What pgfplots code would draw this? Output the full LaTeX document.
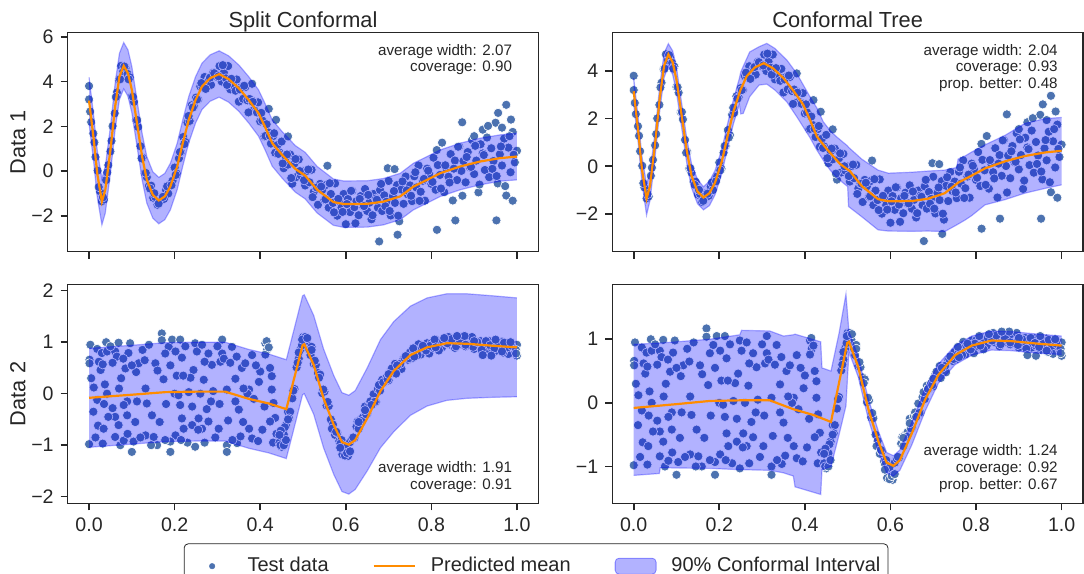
\documentclass[border=0pt]{standalone}
\usepackage{fontspec}
\setmainfont{Liberation Sans}
\usepackage{pgfplots}
\pgfplotsset{compat=1.18}
\usepgfplotslibrary{groupplots,fillbetween}
\usepackage{pgfplotstable}

\definecolor{sblue}{HTML}{4C72B0}
\definecolor{lorange}{HTML}{FF8C00}
\definecolor{tgray}{HTML}{262626}

% ---------- Data 1: test points ----------
\pgfplotstableread{
x y
0.000 3.20
0.000 3.80
0.005 2.19
0.010 1.68
0.015 0.63
0.020 0.02
0.025 -0.89
0.030 -1.35
0.035 -1.27
0.040 -0.40
0.045 0.27
0.050 0.88
0.055 2.01
0.060 2.58
0.065 3.51
0.070 4.08
0.075 4.70
0.080 4.46
0.085 4.60
0.090 4.34
0.095 4.19
0.100 3.33
0.105 3.09
0.110 2.27
0.115 1.97
0.120 1.11
0.125 0.60
0.130 -0.09
0.135 -0.27
0.140 -0.66
0.145 -0.65
0.150 -1.19
0.155 -1.16
0.160 -1.50
0.165 -1.15
0.170 -1.16
0.175 -1.24
0.180 -0.85
0.185 -1.00
0.190 -0.60
0.195 -0.43
0.200 0.16
0.205 -0.11
0.210 0.57
0.215 0.85
0.220 1.52
0.225 1.30
0.230 2.17
0.235 2.24
0.240 2.94
0.245 2.90
0.250 3.28
0.255 3.20
0.260 3.78
0.265 3.76
0.270 4.20
0.275 3.85
0.280 4.11
0.285 3.85
0.290 4.39
0.295 4.33
0.300 4.20
0.305 4.69
0.310 4.00
0.315 4.40
0.320 4.14
0.325 4.69
0.330 3.65
0.335 4.02
0.340 3.75
0.345 4.09
0.350 3.10
0.355 3.74
0.360 3.23
0.365 3.75
0.370 3.16
0.375 3.22
0.380 2.67
0.385 3.11
0.390 2.68
0.395 3.07
0.400 2.22
0.405 2.26
0.410 1.55
0.415 2.09
0.420 1.72
0.425 1.23
0.430 1.56
0.435 0.82
0.440 1.16
0.445 0.83
0.450 1.32
0.455 0.13
0.460 0.63
0.465 0.29
0.470 0.74
0.475 -0.56
0.480 0.34
0.485 -0.26
0.490 0.52
0.495 -0.19
0.500 -0.01
0.505 -0.64
0.510 0.01
0.515 -0.50
0.520 0.06
0.525 -0.93
0.530 -0.72
0.535 -1.50
0.540 -0.57
0.545 -0.84
0.550 -1.28
0.555 -0.61
0.560 -1.63
0.565 -1.02
0.570 -1.42
0.575 -0.55
0.580 -1.99
0.585 -1.34
0.590 -1.63
0.595 -1.02
0.600 -2.37
0.605 -1.25
0.610 -1.83
0.615 -0.89
0.620 -1.61
0.625 -1.34
0.630 -1.97
0.635 -1.11
0.640 -1.56
0.645 -0.80
0.650 -1.78
0.655 -1.41
0.660 -2.15
0.665 -1.02
0.670 -1.23
0.675 -1.63
0.680 -0.84
0.685 -1.78
0.690 -1.08
0.695 -1.37
0.700 -0.44
0.705 -1.98
0.710 -1.12
0.715 -1.42
0.720 -0.62
0.725 -2.24
0.730 -0.82
0.735 -1.46
0.740 -0.24
0.745 -1.04
0.750 -0.64
0.755 -1.34
0.760 -0.23
0.765 -0.73
0.770 0.25
0.775 -0.92
0.780 -0.43
0.785 -1.32
0.790 0.11
0.795 -0.12
0.800 -0.57
0.805 0.60
0.810 -0.83
0.815 0.27
0.820 -0.17
0.825 1.27
0.830 -0.94
0.835 0.14
0.840 -0.25
0.845 0.76
0.850 -1.31
0.855 0.47
0.860 -0.40
0.865 1.10
0.870 0.01
0.875 0.45
0.880 -0.50
0.885 0.85
0.890 0.17
0.895 1.39
0.900 -0.13
0.905 0.47
0.910 -0.95
0.915 1.20
0.920 0.79
0.925 0.05
0.930 1.50
0.935 -0.27
0.940 1.02
0.945 0.45
0.950 2.16
0.955 -0.55
0.960 0.75
0.965 0.25
0.970 1.45
0.975 -1.09
0.980 1.05
0.985 -0.05
0.990 1.75
0.995 0.39
1.000 0.91
0.678 -3.14
0.721 -2.84
0.813 -2.62
0.856 -2.20
0.952 -2.20
0.990 -1.32
0.975 2.96
0.956 2.60
0.872 2.18
0.986 2.30
0.965 1.94
0.920 1.85
0.900 1.56
0.698 0.13
0.714 0.09
0.557 0.24
0.420 2.78
0.437 2.29
0.465 1.55
0.381 3.90
0.0025 2.66
0.0125 1.28
0.0225 -0.71
0.0325 -1.17
0.0425 -0.06
0.0525 1.35
0.0625 3.31
0.0725 4.10
0.0825 4.67
0.0925 4.10
0.1025 3.32
0.1125 2.28
0.1225 0.57
0.1325 -0.08
0.1425 -0.78
0.1525 -0.99
0.1625 -1.45
0.1725 -1.15
0.1825 -0.68
0.1925 -0.63
0.2025 -0.17
0.2125 0.85
0.2225 1.21
0.2325 2.46
0.2425 2.84
0.2525 3.20
0.2625 3.93
0.2725 3.67
0.2825 4.17
0.2925 4.37
0.3025 4.23
0.3125 4.73
0.3225 3.85
0.3325 4.12
0.3425 3.59
0.3525 3.65
0.3625 3.81
0.3725 2.62
0.3825 3.09
0.3925 2.62
0.4025 2.60
0.4125 1.57
0.4225 1.58
0.4325 1.69
0.4425 0.77
0.4525 0.34
0.4625 0.74
0.4725 -0.31
0.4825 0.54
0.4925 0.00
0.5025 -0.41
0.5125 0.07
0.5225 -1.16
0.5325 -0.73
0.5425 -0.69
0.5525 -1.26
0.5625 -0.54
0.5725 -1.84
0.5825 -1.24
0.5925 -1.82
0.6025 -1.47
0.6125 -0.88
0.6225 -2.33
0.6325 -1.24
0.6425 -1.56
0.6525 -1.06
0.6625 -1.97
0.6725 -1.28
0.6825 -0.57
0.6925 -1.57
0.7025 -1.78
0.7125 -0.89
0.7225 -1.99
0.7325 -0.46
0.7425 -0.86
0.7525 -1.10
0.7625 -0.05
0.7725 -1.33
0.7825 -0.35
0.7925 0.02
0.8025 -0.48
0.8125 0.94
0.8225 -0.78
0.8325 0.26
0.8425 -0.51
0.8525 0.11
0.8625 1.09
0.8725 -1.10
0.8825 0.63
0.8925 0.19
0.9025 1.13
0.9125 -0.60
0.9225 0.72
0.9325 2.02
0.9425 0.10
0.9525 -0.22
0.9625 1.10
0.9725 -0.67
0.9825 1.56
0.9925 0.73
}\dOne

% ---------- Data 1: predicted mean ----------
\pgfplotstableread{
x y
0.000 3.15
0.011 1.40
0.019 -0.09
0.030 -1.36
0.038 -0.83
0.050 0.95
0.061 2.89
0.071 4.22
0.081 4.70
0.091 4.37
0.100 3.63
0.112 2.14
0.124 0.65
0.135 -0.39
0.149 -1.06
0.163 -1.31
0.177 -1.13
0.190 -0.69
0.206 0.21
0.219 1.25
0.233 2.29
0.249 3.18
0.264 3.78
0.283 4.15
0.304 4.33
0.326 4.11
0.350 3.70
0.373 3.18
0.396 2.59
0.411 1.99
0.428 1.25
0.451 0.73
0.482 0.10
0.505 -0.20
0.533 -0.83
0.571 -1.38
0.595 -1.47
0.650 -1.46
0.688 -1.36
0.727 -1.13
0.758 -0.69
0.790 -0.39
0.821 -0.09
0.868 0.21
0.914 0.43
0.961 0.58
1.000 0.65
}\mOne

% ---------- Data 1: split conformal band ----------
\pgfplotstableread{
x lo hi
0.000 2.12 4.19
0.011 0.37 2.44
0.019 -1.13 0.95
0.030 -2.40 -0.33
0.038 -1.87 0.21
0.050 -0.09 1.99
0.061 1.86 3.93
0.071 3.19 5.26
0.081 3.67 5.74
0.091 3.34 5.41
0.100 2.60 4.67
0.112 1.11 3.18
0.124 -0.39 1.69
0.135 -1.43 0.65
0.149 -2.10 -0.03
0.163 -2.35 -0.28
0.177 -2.17 -0.10
0.190 -1.73 0.35
0.206 -0.83 1.25
0.219 0.22 2.29
0.233 1.26 3.33
0.249 2.15 4.22
0.264 2.75 4.82
0.283 3.12 5.19
0.304 3.30 5.37
0.326 3.08 5.15
0.350 2.67 4.74
0.373 2.15 4.22
0.396 1.56 3.63
0.411 0.96 3.03
0.428 0.22 2.29
0.451 -0.31 1.77
0.482 -0.94 1.14
0.505 -1.24 0.84
0.533 -1.87 0.21
0.571 -2.42 -0.35
0.595 -2.51 -0.44
0.650 -2.50 -0.43
0.688 -2.40 -0.33
0.727 -2.17 -0.10
0.758 -1.73 0.35
0.790 -1.43 0.65
0.821 -1.13 0.95
0.868 -0.83 1.25
0.914 -0.61 1.47
0.961 -0.45 1.62
1.000 -0.39 1.69
}\bOneL

% ---------- Data 1: conformal tree band ----------
\pgfplotstableread{
x lo hi
0.000 2.60 3.70
0.011 0.90 1.95
0.019 -0.65 0.45
0.030 -2.05 -0.75
0.038 -1.45 -0.25
0.050 0.40 1.45
0.061 2.35 3.40
0.071 3.72 4.75
0.081 4.20 5.15
0.091 3.85 4.85
0.100 3.10 4.15
0.112 1.62 2.66
0.124 0.13 1.17
0.135 -0.90 0.12
0.149 -1.57 -0.55
0.163 -1.83 -0.86
0.177 -1.65 -0.62
0.190 -1.20 -0.18
0.206 -0.30 0.72
0.219 0.74 1.76
0.233 1.78 2.80
0.247 2.60 3.70
0.250 2.20 3.95
0.256 2.22 4.20
0.271 2.92 4.80
0.293 3.41 5.02
0.311 3.45 5.16
0.330 3.20 4.95
0.358 2.70 4.46
0.381 2.08 3.90
0.412 1.20 2.92
0.428 0.68 2.45
0.443 0.25 1.87
0.459 -0.16 1.50
0.474 -0.45 1.24
0.490 -0.71 1.00
0.500 -0.85 0.85
0.502 -1.69 0.80
0.533 -2.12 0.30
0.571 -2.67 -0.16
0.595 -2.72 -0.29
0.650 -2.73 -0.25
0.688 -2.72 -0.20
0.727 -2.74 -0.16
0.755 -2.46 -0.05
0.758 -2.43 0.30
0.775 -2.25 0.44
0.790 -2.07 0.60
0.821 -1.62 0.90
0.868 -1.40 1.30
0.914 -1.13 1.80
0.961 -0.93 2.00
1.000 -0.78 2.05
}\bOneR

% ---------- Data 2: test points ----------
\pgfplotstableread{
x y
0.003 0.95
0.001 0.66
0.001 0.59
0.000 -0.98
0.011 0.12
0.019 -0.12
0.019 0.87
0.023 0.62
0.027 0.46
0.032 0.57
0.030 0.79
0.042 0.82
0.040 1.00
0.037 0.18
0.042 0.00
0.021 -0.62
0.034 -0.68
0.032 -0.97
0.061 0.82
0.065 0.72
0.069 0.99
0.085 0.49
0.061 -0.84
0.069 -0.61
0.061 -0.45
0.073 -1.00
0.081 -0.91
0.092 0.79
0.096 0.98
0.116 0.59
0.110 0.42
0.100 -1.13
0.104 -0.93
0.089 -0.15
0.081 -0.22
0.089 -0.42
0.112 -0.15
0.132 0.10
0.135 -0.19
0.147 -0.42
0.132 -0.81
0.155 0.59
0.170 1.17
0.170 1.04
0.186 0.91
0.178 0.78
0.174 0.28
0.194 1.05
0.213 1.05
0.202 0.82
0.217 0.70
0.200 0.00
0.209 -0.03
0.213 -0.22
0.217 -0.48
0.221 -0.68
0.202 -0.81
0.190 -1.13
0.190 -0.93
0.159 -1.00
0.151 -0.84
0.178 -0.90
0.233 0.03
0.248 0.98
0.252 0.82
0.264 0.95
0.279 0.78
0.287 0.56
0.270 0.62
0.244 0.46
0.237 0.31
0.268 0.27
0.260 0.00
0.241 -0.25
0.256 -0.48
0.241 -0.61
0.264 -0.68
0.279 -0.54
0.248 -1.03
0.303 -0.68
0.311 1.05
0.311 0.78
0.307 0.62
0.315 0.68
0.322 0.08
0.334 0.91
0.342 0.29
0.357 0.50
0.322 -1.00
0.322 -1.13
0.346 -0.96
0.342 -0.15
0.350 -0.31
0.354 -0.83
0.374 -0.68
0.381 -0.87
0.374 0.08
0.370 0.00
0.400 0.43
0.397 0.23
0.412 0.98
0.416 0.85
0.412 0.76
0.423 0.50
0.427 0.34
0.427 0.08
0.431 -0.18
0.435 -0.47
0.423 -0.54
0.365 0.59
0.381 0.75
0.361 0.10
0.050 0.92
0.055 -0.28
0.075 0.30
0.120 -0.85
0.125 0.85
0.140 0.95
0.145 -1.00
0.160 0.45
0.165 -0.55
0.180 -0.20
0.190 0.55
0.205 0.35
0.225 0.92
0.230 -0.95
0.270 -0.95
0.275 -0.30
0.290 0.05
0.295 -0.85
0.300 0.92
0.305 -0.20
0.325 -0.52
0.330 0.60
0.335 -0.90
0.345 0.72
0.360 -0.55
0.385 -0.10
0.390 0.55
0.395 -0.92
0.405 -0.70
0.410 -0.25
0.415 1.02
0.420 0.90
0.430 -0.95
0.438 -0.78
0.285 -0.15
0.255 -0.70
0.220 0.35
0.215 -0.90
0.100 0.55
0.108 -0.55
0.130 0.65
0.010 -0.35
0.005 0.30
0.015 -0.85
0.045 -0.45
0.070 0.10
0.080 0.68
0.090 -0.78
0.055 0.60
0.035 -0.20
0.445 -0.95
0.450 -1.03
0.455 -0.79
0.460 -0.61
0.465 -0.35
0.470 -0.35
0.475 -0.09
0.480 0.09
0.485 0.51
0.490 0.68
0.495 0.87
0.500 1.10
0.505 0.94
0.510 0.97
0.515 0.85
0.520 0.91
0.525 0.58
0.530 0.56
0.535 0.40
0.540 0.37
0.545 0.01
0.550 0.04
0.555 -0.23
0.560 -0.24
0.565 -0.50
0.570 -0.60
0.575 -0.80
0.580 -0.76
0.585 -0.92
0.590 -0.90
0.595 -1.11
0.600 -1.09
0.605 -1.21
0.610 -0.94
0.615 -0.88
0.620 -0.86
0.625 -0.64
0.630 -0.68
0.635 -0.50
0.640 -0.46
0.645 -0.25
0.650 -0.39
0.655 -0.21
0.660 -0.18
0.665 -0.01
0.670 -0.16
0.675 0.09
0.680 0.06
0.685 0.27
0.690 0.22
0.695 0.31
0.700 0.26
0.705 0.45
0.710 0.42
0.715 0.58
0.720 0.46
0.725 0.56
0.730 0.48
0.735 0.68
0.740 0.69
0.745 0.66
0.750 0.80
0.755 0.69
0.760 0.82
0.765 0.79
0.770 0.96
0.775 0.76
0.780 0.89
0.785 0.86
0.790 0.98
0.795 0.78
0.800 0.98
0.805 0.89
0.810 1.05
0.815 0.94
0.820 0.99
0.825 0.90
0.830 1.04
0.835 0.98
0.840 1.10
0.845 0.95
0.850 1.01
0.855 0.89
0.860 1.06
0.865 1.03
0.870 0.96
0.875 1.07
0.880 0.92
0.885 1.02
0.890 0.96
0.895 1.10
0.900 0.87
0.905 0.97
0.910 0.92
0.915 1.02
0.920 0.80
0.925 0.98
0.930 0.87
0.935 1.02
0.940 0.90
0.945 0.94
0.950 0.83
0.955 0.97
0.960 0.89
0.965 1.01
0.970 0.84
0.975 0.90
0.980 0.77
0.985 0.94
0.990 0.90
0.995 0.84
1.000 0.95
0.4475 -1.00
0.4575 -0.65
0.4675 -0.48
0.4775 0.06
0.4875 0.60
0.4975 0.94
0.5075 1.08
0.5175 0.75
0.5275 0.64
0.5375 0.31
0.5475 0.08
0.5575 -0.16
0.5675 -0.68
0.5775 -0.74
0.5875 -0.97
0.5975 -1.02
0.6075 -1.13
0.6175 -0.85
0.6275 -0.54
0.6375 -0.53
0.6475 -0.40
0.6575 -0.15
0.6675 -0.16
0.6775 0.17
0.6875 0.22
0.6975 0.28
0.7075 0.49
0.7175 0.39
0.7275 0.58
0.7375 0.69
0.7475 0.69
0.7575 0.88
0.7675 0.75
0.7775 0.90
0.7875 0.84
0.7975 0.93
0.8075 1.05
0.8175 0.84
0.8275 1.02
0.8375 0.98
0.8475 1.06
0.8575 0.92
0.8675 1.02
0.8775 1.12
0.8875 0.94
0.8975 0.91
0.9075 1.00
0.9175 0.85
0.9275 1.02
0.9375 0.94
0.9475 0.88
0.9575 0.99
0.9675 0.80
0.9775 0.90
0.9875 0.93
0.9975 0.85
0.592 -1.18
0.598 -1.20
0.603 -1.15
0.587 -1.05
0.610 -1.12
0.940 0.74
0.920 0.75
1.000 0.74
0.998 0.78
0.860 1.12
0.830 1.08
0.810 0.90
0.950 1.05
0.970 0.99
0.505 1.10
0.498 1.05
0.510 1.08
0.520 0.85
0.490 0.80
0.455 -1.00
0.460 -0.90
0.448 -0.72
0.465 -0.50
0.445 -0.80
0.760 0.72
0.700 0.38
0.720 0.55
0.660 -0.22
0.645 -0.32
0.630 -0.55
0.740 0.73
0.780 0.93
0.900 1.02
0.880 0.95
0.965 0.82
0.985 1.00
}\dTwo

% ---------- Data 2: predicted mean ----------
\pgfplotstableread{
x y
0.000 -0.08
0.100 -0.02
0.178 0.03
0.250 0.04
0.318 0.04
0.373 -0.10
0.420 -0.19
0.461 -0.30
0.499 0.94
0.503 0.96
0.525 0.56
0.548 -0.09
0.572 -0.61
0.591 -0.94
0.607 -0.99
0.622 -0.90
0.650 -0.48
0.681 0.05
0.712 0.44
0.751 0.75
0.790 0.90
0.836 0.98
0.883 0.97
0.945 0.93
1.000 0.90
}\mTwo

% ---------- Data 2: split conformal band ----------
\pgfplotstableread{
x lo hi
0.000 -1.04 0.88
0.100 -0.98 0.94
0.178 -0.93 0.99
0.250 -0.92 1.00
0.318 -0.92 1.00
0.373 -1.06 0.86
0.420 -1.15 0.77
0.461 -1.26 0.66
0.499 -0.02 1.90
0.503 0.00 1.92
0.525 -0.40 1.52
0.548 -1.05 0.87
0.572 -1.57 0.35
0.591 -1.90 0.02
0.607 -1.95 -0.03
0.622 -1.86 0.06
0.650 -1.50 0.50
0.681 -1.05 1.05
0.712 -0.74 1.40
0.751 -0.42 1.70
0.790 -0.24 1.86
0.836 -0.13 1.94
0.883 -0.09 1.94
0.945 -0.07 1.90
1.000 -0.06 1.86
}\bTwoL

% ---------- Data 2: conformal tree band ----------
\pgfplotstableread{
x lo hi
0.000 -1.14 0.92
0.060 -1.11 0.94
0.062 -1.02 0.94
0.178 -1.03 1.00
0.248 -1.05 1.07
0.252 -1.05 1.14
0.318 -1.06 1.13
0.350 -1.10 1.05
0.373 -1.15 1.07
0.377 -1.32 1.08
0.437 -1.44 0.96
0.440 -1.05 0.55
0.461 -1.00 0.50
0.480 -0.50 1.10
0.496 -0.05 1.71
0.503 0.80 1.12
0.525 0.40 0.72
0.548 -0.25 0.07
0.572 -0.77 -0.45
0.591 -1.10 -0.78
0.607 -1.15 -0.83
0.622 -1.06 -0.74
0.650 -0.66 -0.30
0.681 -0.13 0.23
0.712 0.31 0.61
0.751 0.60 0.90
0.790 0.75 1.05
0.836 0.83 1.13
0.883 0.82 1.12
0.945 0.78 1.08
1.000 0.76 1.05
}\bTwoR

\newcommand\notefont{\fontsize{7.6}{8.4}\selectfont}

\pgfplotsset{
  scat/.style={only marks, mark=*, mark size=2.3pt,
    mark options={fill=sblue, draw=white, line width=0.3pt}, on layer=axis background},
  bedge/.style={draw=blue, draw opacity=0.3, line width=0.6pt},
  bfill/.style={fill=blue, fill opacity=0.3, draw=none},
  mline/.style={lorange, line width=1.1pt},
  legmark/.style={legend image code/.code={%
    \draw[##1] plot coordinates {(10pt,0pt)}; \path (0pt,0pt) (20pt,0pt);}},
  legline/.style={legend image code/.code={%
    \draw[##1] (0pt,0pt) -- (20.5pt,0pt);}},
  legpatch/.style={legend image code/.code={%
    \draw[##1] (0pt,-4pt) rectangle (20.5pt,4pt);}},
}

\begin{document}
\begin{tikzpicture}
\begin{groupplot}[
  group style={group name=G, group size=2 by 2, horizontal sep=37pt, vertical sep=16.5pt},
  width=235.5pt, height=109.5pt, scale only axis,
  set layers, clip marker paths=true,
  xmin=-0.05, xmax=1.05,
  axis line style={tgray, line width=0.8pt},
  tick style={tgray, line width=0.8pt},
  major tick length=3.5pt,
  tick align=outside, tick pos=left,
  xtick={0,0.2,0.4,0.6,0.8,1},
  ticklabel style={font=\fontsize{9.8}{11}\selectfont, text=tgray},
  title style={font=\fontsize{10.9}{13}\selectfont, text=tgray, at={(0.5,1)}, anchor=base, yshift=-3.6pt},
  ylabel style={font=\fontsize{10.9}{13}\selectfont, text=tgray, at={(axis description cs:-0.1055,0.5)}, anchor=center},
]
% top left
\nextgroupplot[title={Split Conformal}, ylabel={Data 1},
  ymin=-3.59, ymax=6.18, ytick={-2,0,2,4,6}, yticklabels={−2,0,2,4,6}, xticklabels={}]
\addplot[scat] table {\dOne};
\addplot[bedge, name path=a1] table[x=x, y=hi] {\bOneL};
\addplot[bedge, name path=b1] table[x=x, y=lo] {\bOneL};
\addplot[bfill] fill between[of=a1 and b1];
\addplot[mline] table {\mOne};
\node[anchor=north east, align=right, inner sep=0pt, font=\notefont, text=tgray]
  at (rel axis cs:0.945,0.95) {average width: 2.07\\coverage: 0.90};

% top right
\nextgroupplot[title={Conformal Tree},
  ymin=-3.58, ymax=5.61, ytick={-2,0,2,4}, yticklabels={−2,0,2,4}, xticklabels={}]
\addplot[scat] table {\dOne};
\addplot[bedge, name path=a2] table[x=x, y=hi] {\bOneR};
\addplot[bedge, name path=b2] table[x=x, y=lo] {\bOneR};
\addplot[bfill] fill between[of=a2 and b2];
\addplot[mline] table {\mOne};
\node[anchor=north east, align=right, inner sep=0pt, font=\notefont, text=tgray]
  at (rel axis cs:0.947,0.95) {average width: 2.04\\coverage: 0.93\\prop. better: 0.48};

% bottom left
\nextgroupplot[ylabel={Data 2},
  ymin=-2.13, ymax=2.12, ytick={-2,-1,0,1,2}, yticklabels={−2,−1,0,1,2},
  xticklabels={0.0,0.2,0.4,0.6,0.8,1.0}]
\addplot[scat] table {\dTwo};
\addplot[bedge, name path=a3] table[x=x, y=hi] {\bTwoL};
\addplot[bedge, name path=b3] table[x=x, y=lo] {\bTwoL};
\addplot[bfill] fill between[of=a3 and b3];
\addplot[mline] table {\mTwo};
\node[anchor=south east, align=right, inner sep=0pt, font=\notefont, text=tgray]
  at (rel axis cs:0.945,0.047) {average width: 1.91\\coverage: 0.91};

% bottom right
\nextgroupplot[
  ymin=-1.58, ymax=1.86, ytick={-1,0,1}, yticklabels={−1,0,1},
  xticklabels={0.0,0.2,0.4,0.6,0.8,1.0},
  legend columns=3, legend cell align=left,
  legend style={at={(-0.162,-0.183)}, anchor=north, draw=tgray, rounded corners=2pt,
    font=\fontsize{10}{12}\selectfont, text=tgray, inner xsep=3.8pt, inner ysep=4.8pt,
    nodes={inner xsep=0pt},
    /tikz/every odd column/.append style={column sep=7.5pt},
    /tikz/every even column/.append style={column sep=22pt}}]
\addplot[scat, forget plot] table {\dTwo};
\addplot[bedge, name path=a4, forget plot] table[x=x, y=hi] {\bTwoR};
\addplot[bedge, name path=b4, forget plot] table[x=x, y=lo] {\bTwoR};
\addplot[bfill, forget plot] fill between[of=a4 and b4];
\addplot[mline, forget plot] table {\mTwo};
\node[anchor=south east, align=right, inner sep=0pt, font=\notefont, text=tgray]
  at (rel axis cs:0.947,0.047) {average width: 1.24\\coverage: 0.92\\prop. better: 0.67};
\addlegendimage{legmark, mark=*, mark size=1.4pt, mark options={fill=sblue, draw=sblue, line width=0.2pt}}
\addlegendentry{Test data}
\addlegendimage{legline, lorange, line width=1.1pt}
\addlegendentry{Predicted mean}
\addlegendimage{legpatch, fill=blue, fill opacity=0.3, draw=blue, draw opacity=0.4}
\addlegendentry{90\% Conformal Interval}
\end{groupplot}
\pgfresetboundingbox
\path[use as bounding box] ([xshift=-33.85pt, yshift=16.35pt]G c1r1.north west)
  rectangle ([xshift=0.5pt, yshift=-35pt]G c2r2.south east);
\end{tikzpicture}
\end{document}
